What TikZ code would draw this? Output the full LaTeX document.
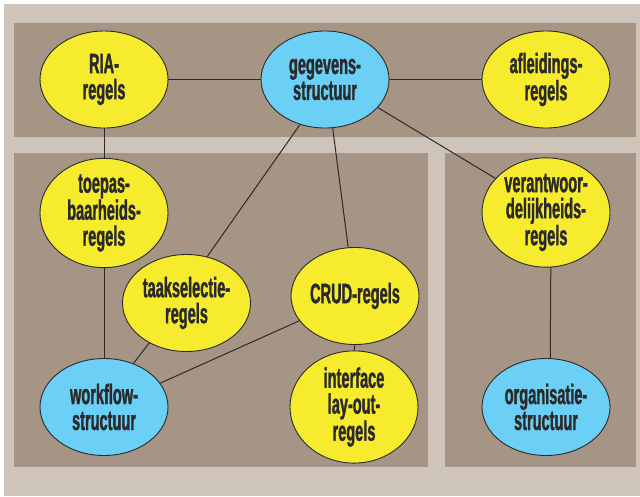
\documentclass[tikz,border=0pt]{standalone}
\usepackage{fontspec}
\newfontfamily\lblfont[FakeStretch=0.52, BoldFont={Liberation Sans Bold}, BoldFeatures={FakeStretch=0.52, FakeBold=1.2}]{Liberation Sans}
\usetikzlibrary{shapes.geometric}
\definecolor{beige}{HTML}{CEC4BA}
\definecolor{panel}{HTML}{A69584}
\definecolor{ylw}{HTML}{F7EB2D}
\definecolor{blu}{HTML}{6BCFF6}
\definecolor{ink}{HTML}{2A2A2A}
\tikzset{
  bubble/.style={ellipse, draw=ink, line width=0.9pt, minimum width=128pt, minimum height=97pt,
    inner sep=0pt, align=center, text=ink,
    font=\lblfont\bfseries\fontsize{28}{26}\selectfont},
  rule/.style={bubble, fill=ylw},
  struct/.style={bubble, fill=blu},
  link/.style={draw=ink, line width=1pt}
}
\begin{document}
\begin{tikzpicture}[x=1pt,y=-1pt]
\useasboundingbox (0,0) rectangle (640,496);
\fill[white] (0,0) rectangle (640,496);
\fill[beige] (4,4) rectangle (640,496);
\fill[panel] (14,23) rectangle (636,137);
\fill[panel] (14,153) rectangle (428,467);
\fill[panel] (445,153) rectangle (636,467);

\node[rule]   (ria)  at (104,79.5) {RIA-\\regels};
\node[struct] (geg)  at (325,79.5) {gegevens-\\structuur};
\node[rule]   (afl)  at (546,79.5) {afleidings-\\regels};
\node[rule]   (toe)  at (104,213) {toepas-\\baarheids-\\regels};
\node[rule]   (ver)  at (546,212.5) {verantwoor-\\delijkheids-\\regels};
\node[rule]   (taak) at (186.5,303) {taakselectie-\\regels};
\node[rule]   (crud) at (355,296) {CRUD-regels};
\node[struct] (wf)   at (104,407) {workflow-\\structuur};
\node[rule]   (intf) at (354,407) {interface\\lay-out-\\regels};
\node[struct] (org)  at (546,407) {organisatie-\\structuur};

\draw[link] (ria.east) -- (geg.west);
\draw[link] (geg.east) -- (afl.west);
\draw[link] (ria.south) -- (toe.north);
\draw[link] (toe.south) -- (wf.north);
\draw[link] (geg.241) -- (taak.66);
\draw[link] (geg.279) -- (crud.98);
\draw[link] (geg.332) -- (ver.146);
\draw[link] (ver.275) -- (org.85);
\draw[link] (crud.south) -- (intf.north);
\draw[link] (taak.227) -- (wf.56);
\draw[link] (crud.204) -- (wf.23);
\end{tikzpicture}
\end{document}
